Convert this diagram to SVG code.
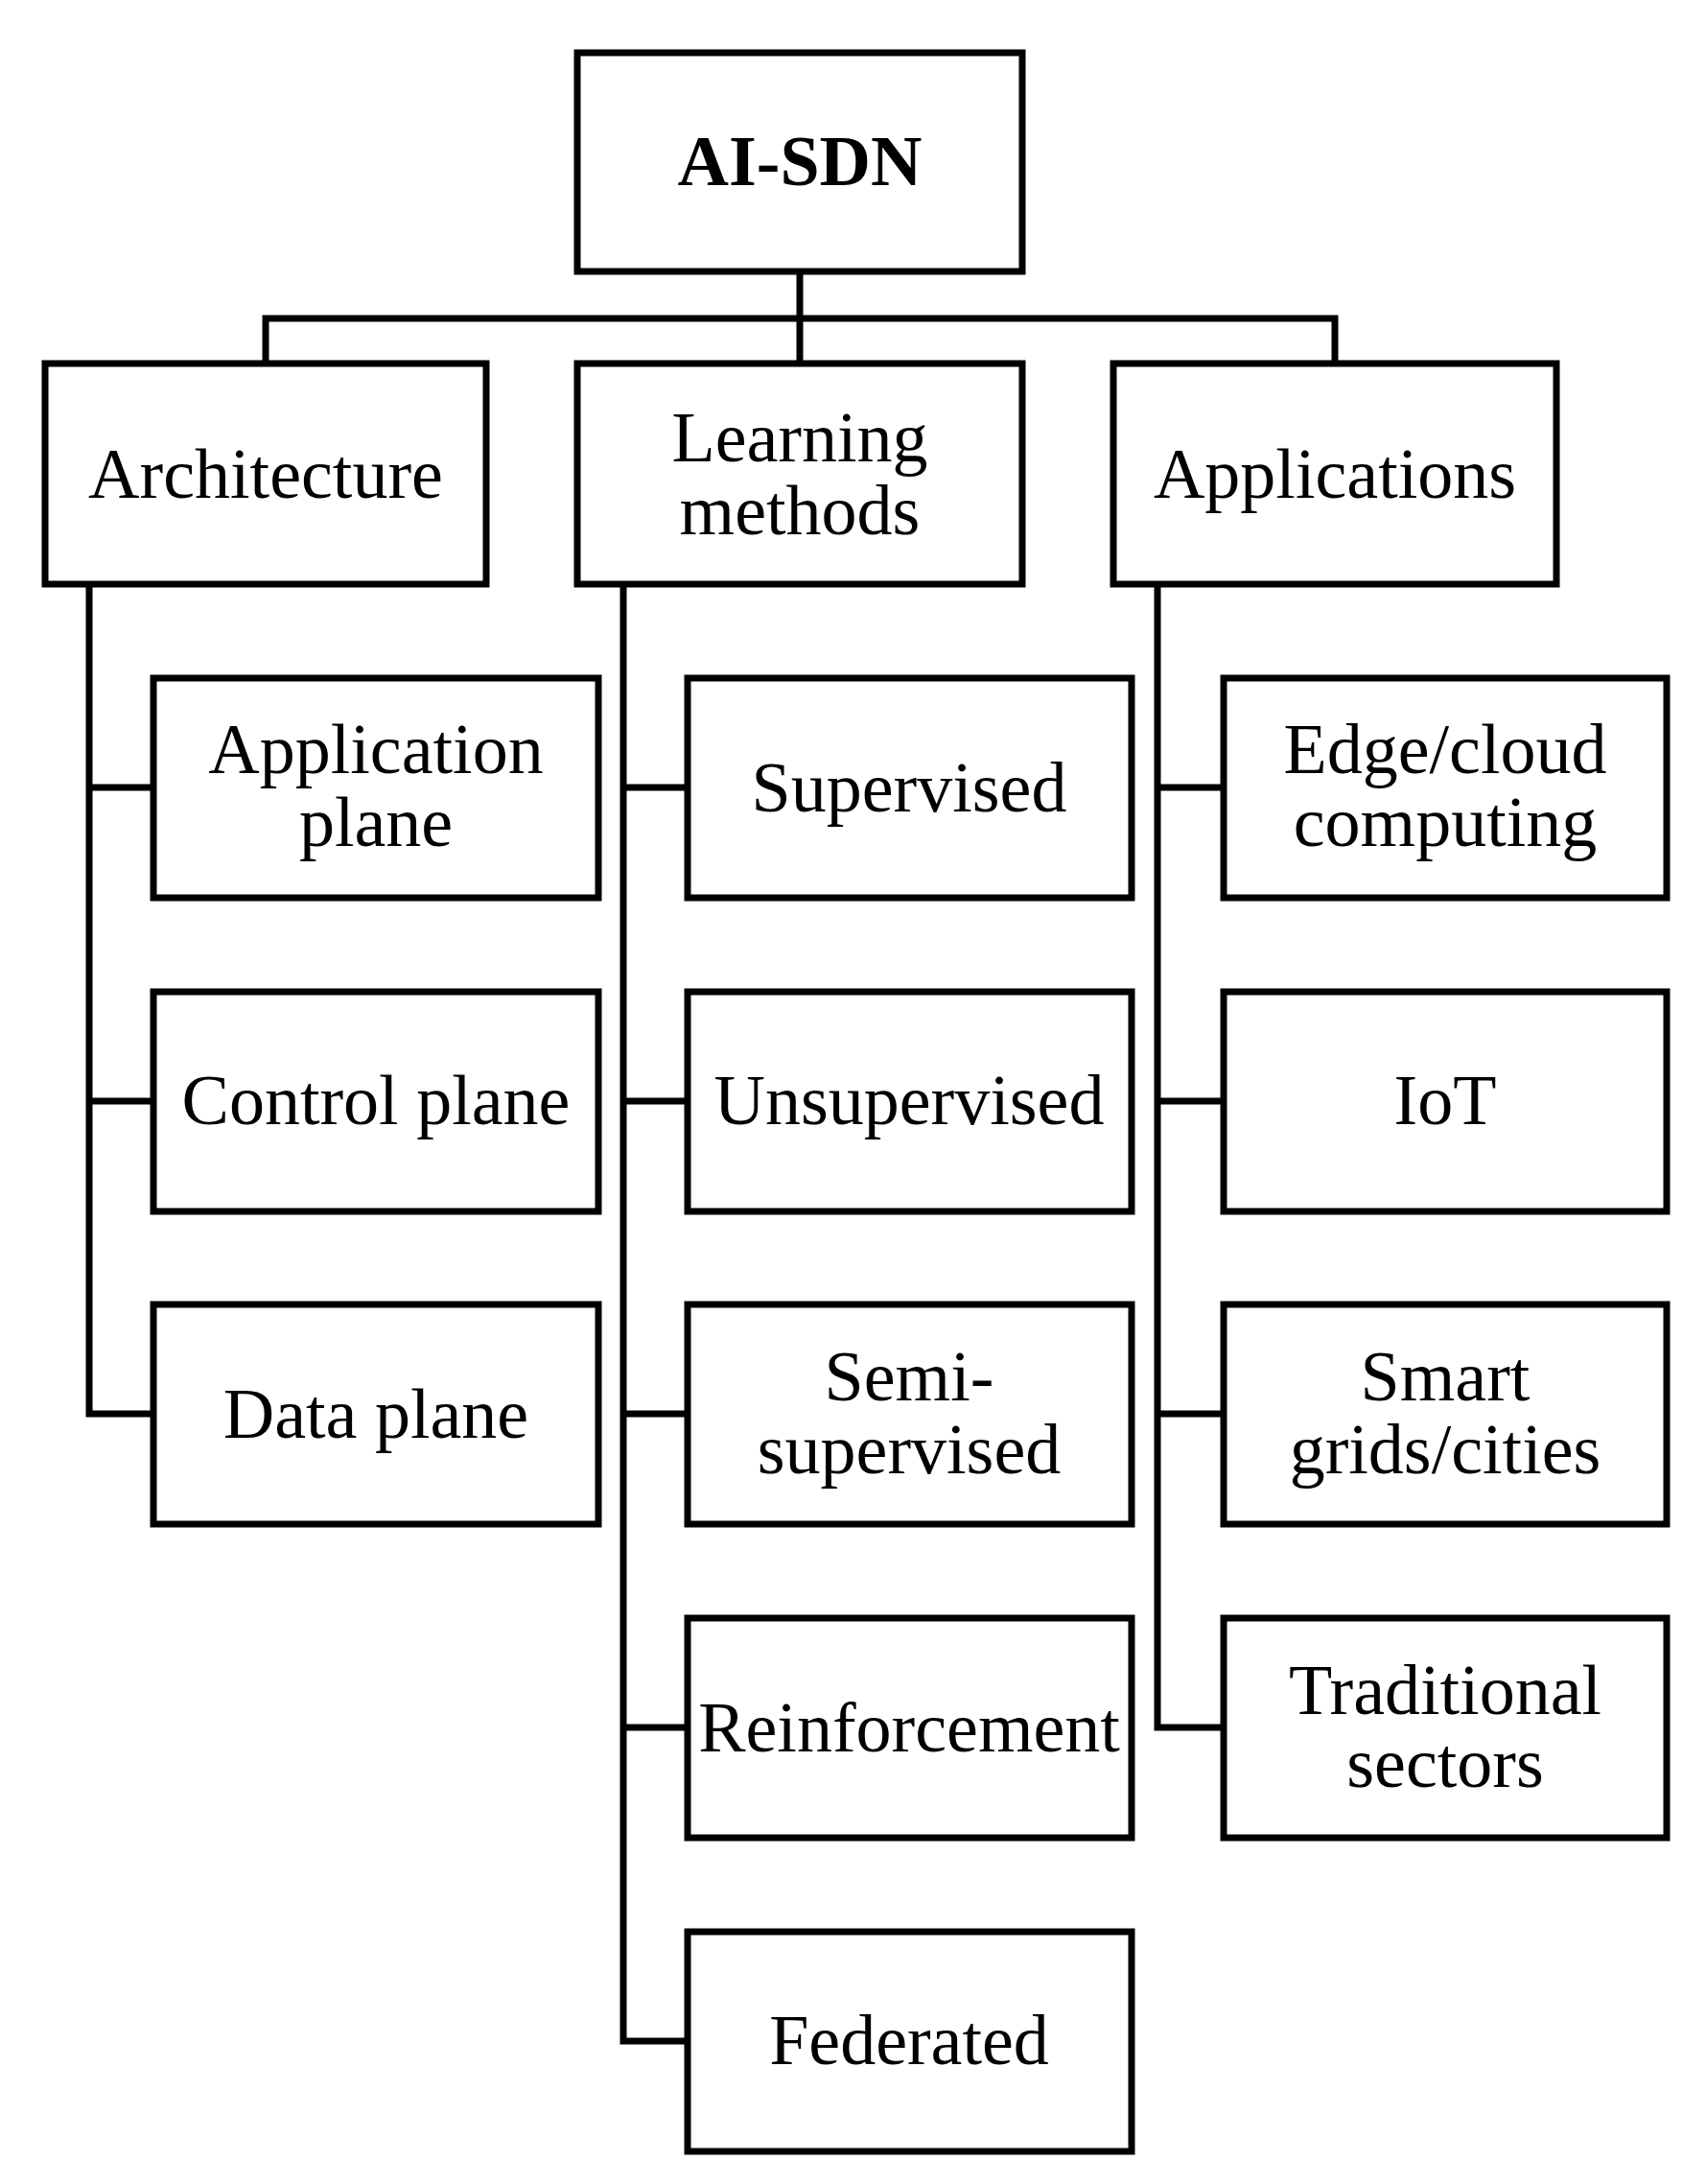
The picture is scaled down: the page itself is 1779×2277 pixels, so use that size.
<svg xmlns="http://www.w3.org/2000/svg" width="1779" height="2277" viewBox="0 0 1779 2277">
<style>
rect{fill:#fff;stroke:#000;stroke-width:7}
text{font-family:"Liberation Serif",serif;font-size:74px;text-anchor:middle;fill:#000}
#connectors path{fill:none;stroke:#000;stroke-width:7}
</style>
<rect x="0" y="0" width="1779" height="2277" style="stroke:none"/>
<g id="connectors">
<path d="M834 283V379M277 379V332H1392V379"/>
<path d="M93 609V1474H160M93 821H160M93 1148H160"/>
<path d="M650 609V2128H717M650 821H717M650 1148H717M650 1474H717M650 1801H717"/>
<path d="M1207 609V1801H1276M1207 821H1276M1207 1148H1276M1207 1474H1276"/>
</g>
<g id="root"><rect x="602" y="55" width="464" height="228"/><text x="834" y="193" font-weight="bold">AI-SDN</text></g>
<g id="architecture"><rect x="47" y="379" width="460" height="230"/><text x="277" y="519">Architecture</text></g>
<g id="learning"><rect x="602" y="379" width="464" height="230"/><text x="834" y="481">Learning</text><text x="834" y="557">methods</text></g>
<g id="applications"><rect x="1161" y="379" width="462" height="230"/><text x="1392" y="519">Applications</text></g>
<g id="appplane"><rect x="160" y="707" width="464" height="229"/><text x="392" y="806">Application</text><text x="392" y="882">plane</text></g>
<g id="ctrlplane"><rect x="160" y="1034" width="464" height="229"/><text x="392" y="1172">Control plane</text></g>
<g id="dataplane"><rect x="160" y="1360" width="464" height="229"/><text x="392" y="1499">Data plane</text></g>
<g id="supervised"><rect x="717" y="707" width="463" height="229"/><text x="948" y="846">Supervised</text></g>
<g id="unsupervised"><rect x="717" y="1034" width="463" height="229"/><text x="948" y="1172">Unsupervised</text></g>
<g id="semi"><rect x="717" y="1360" width="463" height="229"/><text x="948" y="1460">Semi-</text><text x="948" y="1536">supervised</text></g>
<g id="reinforcement"><rect x="717" y="1687" width="463" height="229"/><text x="948" y="1826">Reinforcement</text></g>
<g id="federated"><rect x="717" y="2014" width="463" height="229"/><text x="948" y="2152">Federated</text></g>
<g id="edge"><rect x="1276" y="707" width="462" height="229"/><text x="1507" y="806">Edge/cloud</text><text x="1507" y="882">computing</text></g>
<g id="iot"><rect x="1276" y="1034" width="462" height="229"/><text x="1507" y="1172">IoT</text></g>
<g id="smart"><rect x="1276" y="1360" width="462" height="229"/><text x="1507" y="1460">Smart</text><text x="1507" y="1536">grids/cities</text></g>
<g id="traditional"><rect x="1276" y="1687" width="462" height="229"/><text x="1507" y="1787">Traditional</text><text x="1507" y="1863">sectors</text></g>
</svg>
